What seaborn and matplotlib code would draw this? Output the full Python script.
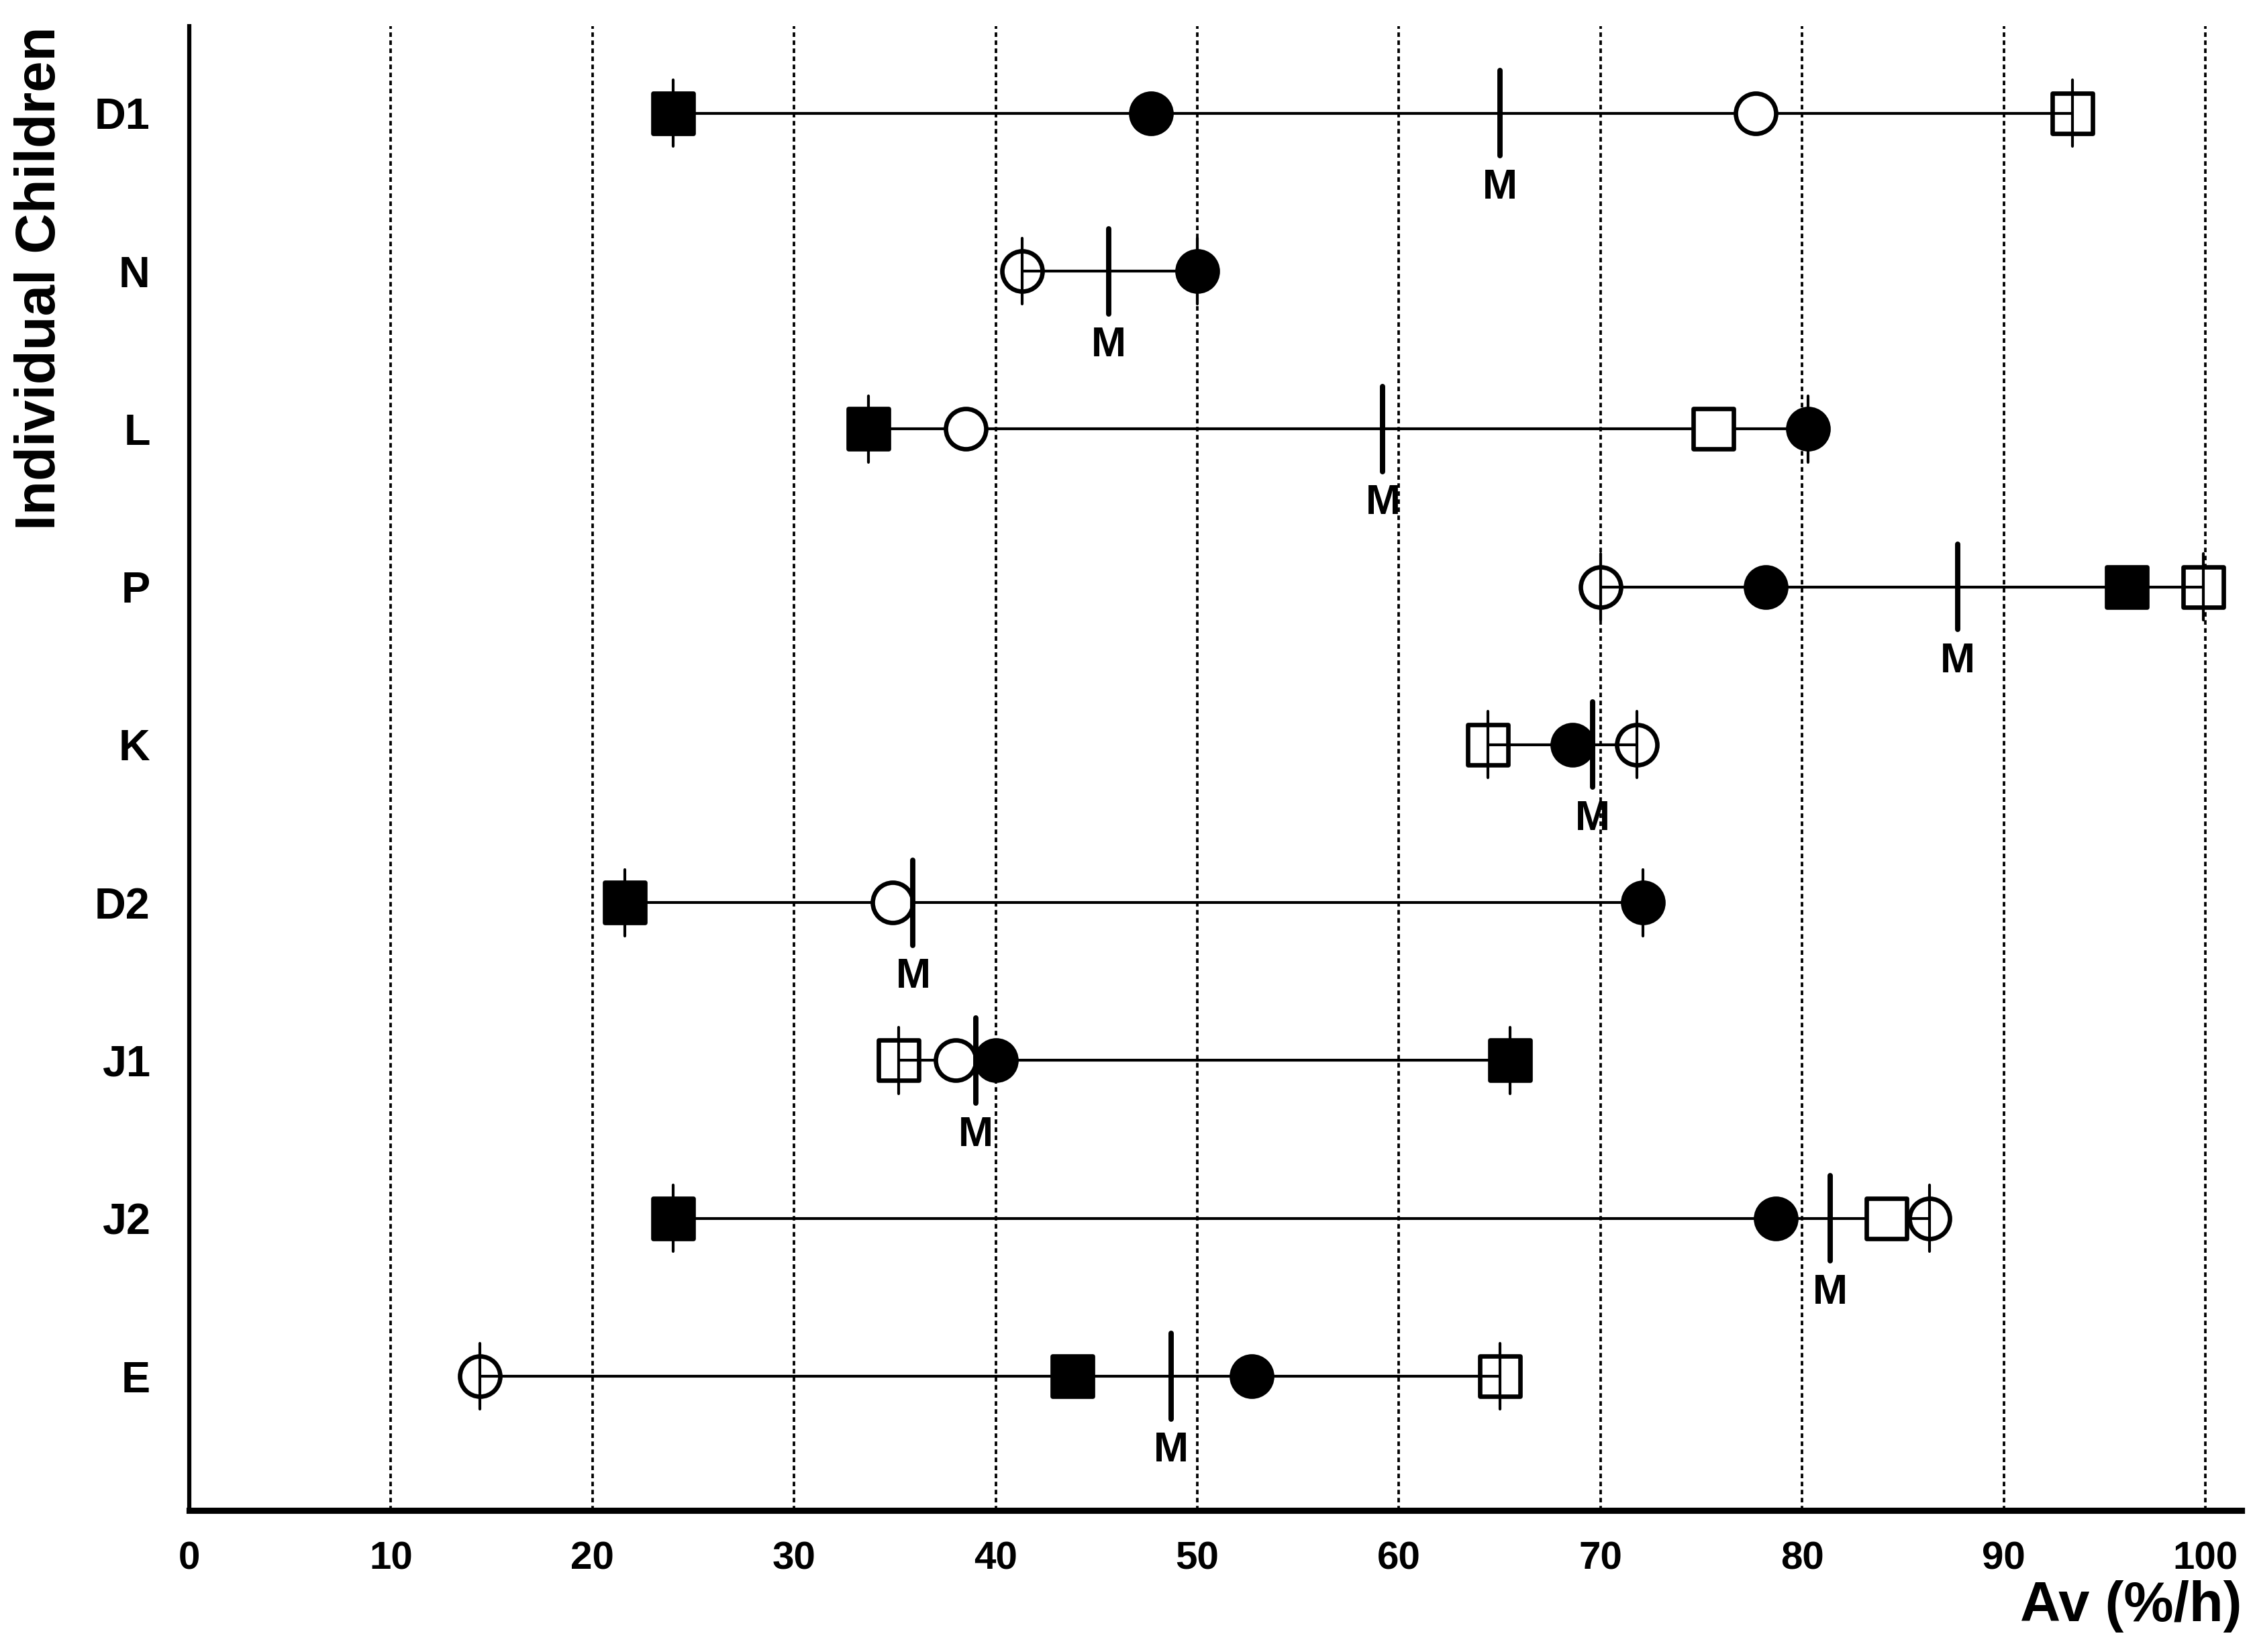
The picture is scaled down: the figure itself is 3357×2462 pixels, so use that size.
import numpy as np
import pandas as pd
import matplotlib
matplotlib.use("Agg")
import matplotlib.pyplot as plt
import seaborn as sns

# donnees (Av en %/h), une valeur par enfant
children = ["D1", "N", "L", "P", "K", "D2", "J1", "J2", "E"]
nan = np.nan
filled_square = [24.0, nan, 33.7, 96.1, nan, 21.6, 65.5, 24.0, 43.8]
filled_circle = [47.7, 50.0, 80.3, 78.2, 68.6, 72.1, 40.0, 78.7, 52.7]
open_circle = [77.7, 41.3, 38.5, 70.0, 71.8, 34.9, 38.0, 86.3, 14.4]
open_square = [93.4, nan, 75.6, 99.9, 64.4, nan, 35.2, 84.2, 65.0]
mean_m = [65.0, 45.6, 59.2, 87.7, 69.6, 35.9, 39.0, 81.4, 48.7]
x_ticks = [0, 10, 20, 30, 40, 50, 60, 70, 80, 90, 100]

sns.set_theme(style="white")
plt.rcParams["font.family"] = ["Liberation Sans", "DejaVu Sans"]
plt.rcParams["font.weight"] = "bold"
plt.rcParams["text.color"] = "black"
plt.rcParams["axes.labelcolor"] = "black"
plt.rcParams["xtick.color"] = "black"
plt.rcParams["ytick.color"] = "black"

# tableau long
conds = {
    "filled_square": filled_square,
    "filled_circle": filled_circle,
    "open_circle": open_circle,
    "open_square": open_square,
}
rows = []
for cond, vals in conds.items():
    for i, v in enumerate(vals):
        if not np.isnan(v):
            rows.append({"child": children[i], "pos": i, "cond": cond, "av": v})
df = pd.DataFrame(rows)
rng = df.groupby("pos")["av"].agg(["min", "max"]).reset_index()
df = df.merge(rng, on="pos")
df["is_end"] = (df["av"] == df["min"]) | (df["av"] == df["max"])

styles = {
    "filled_square": dict(marker="s", facecolor="black"),
    "filled_circle": dict(marker="o", facecolor="black"),
    "open_circle": dict(marker="o", facecolor="white"),
    "open_square": dict(marker="s", facecolor="white"),
}

fig, ax = plt.subplots(figsize=(3357 / 300, 2462 / 300), dpi=300)
fig.subplots_adjust(left=0.084, right=0.995, bottom=0.0857, top=0.984)

# grille verticale pointillee
for xv in x_ticks[1:]:
    ax.axvline(xv, color="black", lw=0.9, linestyle=(0, (1.8, 1.4)), zorder=0)

msize = 14.4 ** 2

def draw_points(sub, z):
    for cond, st in styles.items():
        d = sub[sub["cond"] == cond]
        if len(d) == 0:
            continue
        sns.scatterplot(data=d, x="av", y="pos", ax=ax, marker=st["marker"], s=msize,
                        color=st["facecolor"], edgecolor="black", linewidth=1.6,
                        zorder=z, legend=False)

# extremites sous la ligne, points interieurs au-dessus
draw_points(df[df["is_end"]], 2)

ax.hlines(rng["pos"], rng["min"], rng["max"], color="black", lw=1.0, zorder=3)
for _, r in rng.iterrows():
    for xv in (r["min"], r["max"]):
        ax.plot([xv, xv], [r["pos"] - 0.21, r["pos"] + 0.21], color="black", lw=1.0, zorder=3)

draw_points(df[~df["is_end"]], 4)

# moyenne M
for i, m in enumerate(mean_m):
    ax.plot([m, m], [i - 0.27, i + 0.27], color="black", lw=1.9, zorder=5)
    ax.text(m, i + 0.47, "M", ha="center", va="center", fontsize=15, fontweight="bold")

ax.set_xlim(0, 101.8)
ax.set_ylim(len(children) - 1 + 0.85, -0.55)
ax.set_xticks(x_ticks)
ax.set_xticklabels([str(t) for t in x_ticks], fontsize=14, fontweight="bold")
ax.set_yticks(range(len(children)))
ax.set_yticklabels(children, fontsize=15.5, fontweight="bold")
ax.tick_params(axis="x", length=0, pad=11)
ax.tick_params(axis="y", length=0, pad=14)
ax.set_xlabel("Av (%/h)", loc="right", fontsize=20, fontweight="bold", labelpad=1)
ax.set_ylabel("Individual Children", loc="top", fontsize=20, fontweight="bold", labelpad=10)

for s in ["top", "right"]:
    ax.spines[s].set_visible(False)
ax.spines["left"].set_linewidth(1.5)
ax.spines["left"].set_color("black")
ax.spines["bottom"].set_linewidth(2.2)
ax.spines["bottom"].set_color("black")

fig.savefig("out.png", dpi=300)
